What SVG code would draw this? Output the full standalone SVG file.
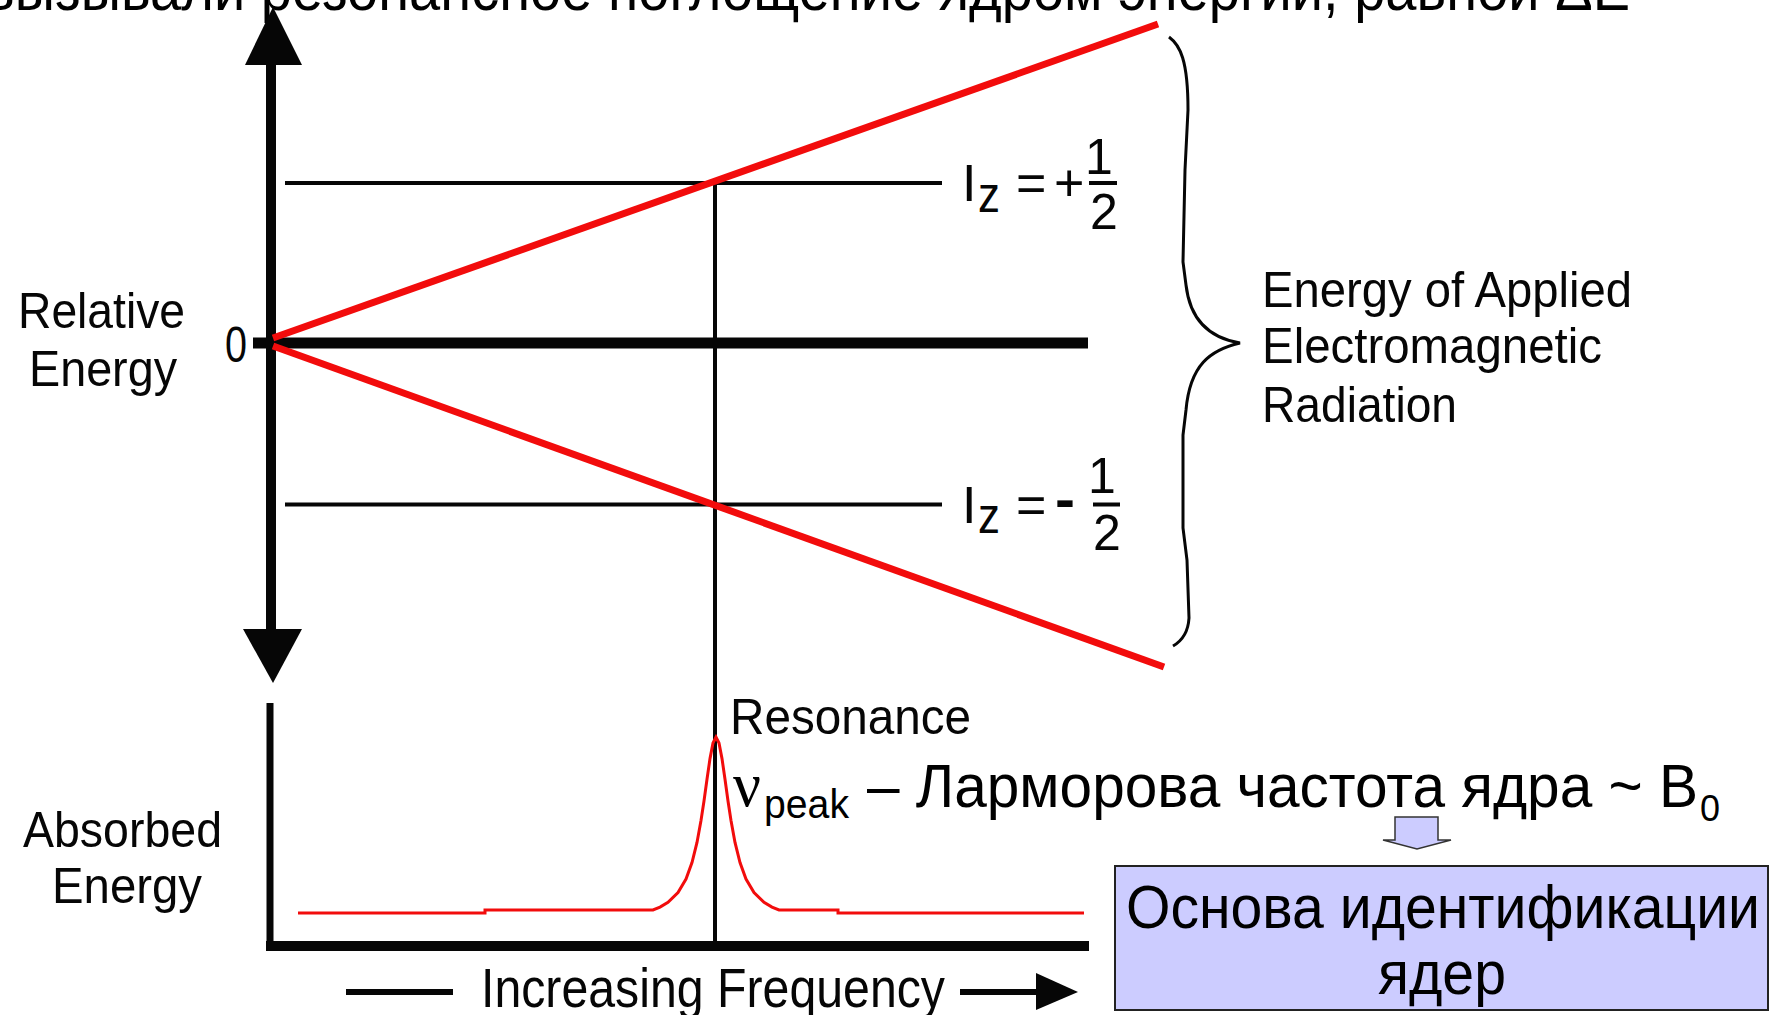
<svg xmlns="http://www.w3.org/2000/svg" width="1775" height="1015" viewBox="0 0 1775 1015">
<style>
.lbl{font-family:"Liberation Sans",Arial,sans-serif;font-size:50px;fill:#060606}
.big{font-family:"Liberation Sans","Noto Sans",sans-serif;font-size:62px;fill:#000}
.k{stroke:#060606;fill:none}
.r{stroke:#f20c0c;fill:none}
.head{fill:#060606}
</style>
<rect x="0" y="0" width="1775" height="1015" fill="#fff"/>
<g id="caption-top">
<text class="big" x="-15" y="10" textLength="1645" lengthAdjust="spacingAndGlyphs">вызывали резонансное поглощение ядром энергии, равной ΔE</text>
</g>
<g id="energy-axis">
<line class="k" x1="271" y1="60" x2="271" y2="632" stroke-width="10"/>
<polygon class="head" points="273,7 245,65 302,65"/>
<polygon class="head" points="243,629 302,629 273,683"/>
<text class="lbl" x="18" y="328" textLength="167" lengthAdjust="spacingAndGlyphs">Relative</text>
<text class="lbl" x="29" y="386" textLength="148" lengthAdjust="spacingAndGlyphs">Energy</text>
<text class="lbl" x="225" y="362" textLength="22" lengthAdjust="spacingAndGlyphs">0</text>
</g>
<g id="levels">
<line class="k" x1="253" y1="343" x2="1088" y2="343" stroke-width="11"/>
<line class="k" x1="285" y1="183" x2="942" y2="183" stroke-width="4"/>
<line class="k" x1="285" y1="504.5" x2="942" y2="504.5" stroke-width="4"/>
<line class="k" x1="715" y1="183" x2="715" y2="946" stroke-width="4"/>
</g>
<g id="label-plus">
<text class="lbl" x="962" y="201" style="font-size:52px">I</text>
<text class="lbl" x="978" y="212" style="font-size:52px" textLength="22" lengthAdjust="spacingAndGlyphs">z</text>
<text class="lbl" x="1016" y="201" style="font-size:52px">=</text>
<text class="lbl" x="1054" y="201" style="font-size:52px">+</text>
<text class="lbl" x="1099" y="174" text-anchor="middle">1</text>
<line class="k" x1="1089" y1="183" x2="1117" y2="183" stroke-width="4"/>
<text class="lbl" x="1104" y="229" text-anchor="middle">2</text>
</g>
<g id="label-minus">
<text class="lbl" x="962" y="523" style="font-size:52px">I</text>
<text class="lbl" x="978" y="533" style="font-size:52px" textLength="22" lengthAdjust="spacingAndGlyphs">z</text>
<text class="lbl" x="1016" y="523" style="font-size:52px">=</text>
<text class="lbl" x="1055" y="518" style="font-size:56px;font-weight:bold" textLength="20" lengthAdjust="spacingAndGlyphs">-</text>
<text class="lbl" x="1102" y="493" text-anchor="middle">1</text>
<line class="k" x1="1093" y1="504.5" x2="1120" y2="504.5" stroke-width="4"/>
<text class="lbl" x="1107" y="550" text-anchor="middle">2</text>
</g>
<g id="zeeman-lines">
<line class="r" x1="273" y1="338" x2="1158" y2="24" stroke-width="7"/>
<line class="r" x1="273" y1="346" x2="1164" y2="667" stroke-width="7"/>
</g>
<g id="brace">
<path class="k" stroke-width="3" d="M1169,37 C1180,45 1188,60 1188,110 L1185,170 L1183,262 L1186,285 C1190,320 1210,338 1240,343 C1210,350 1190,365 1186,410 L1183,435 L1183,528 L1187,560 L1189,618 C1188,635 1180,642 1173,646"/>
<text class="lbl" x="1262" y="307" textLength="370" lengthAdjust="spacingAndGlyphs">Energy of Applied</text>
<text class="lbl" x="1262" y="363" textLength="340" lengthAdjust="spacingAndGlyphs">Electromagnetic</text>
<text class="lbl" x="1262" y="422" textLength="195" lengthAdjust="spacingAndGlyphs">Radiation</text>
</g>
<g id="absorption-axis">
<line class="k" x1="270" y1="703" x2="270" y2="951" stroke-width="7"/>
<line class="k" x1="266" y1="946" x2="1089" y2="946" stroke-width="10"/>
<text class="lbl" x="23" y="847" textLength="199" lengthAdjust="spacingAndGlyphs">Absorbed</text>
<text class="lbl" x="52" y="903" textLength="150" lengthAdjust="spacingAndGlyphs">Energy</text>
</g>
<g id="spectrum">
<polyline class="r" stroke-width="3" points="298,913 485,913 485,910 653,910 660,907.1 668,902.3 678,892.5 686,879 692,862.5 697,842.4 701,820.6 704,801 707,779.3 710,758.6 713,743 716,737 719,743 722,758.6 725,779.3 728,801 731,820.6 735,842.4 740,862.5 746,879 754,892.5 764,902.3 772,907.1 779,910 838,910 838,913 1084,913"/>
<text class="lbl" x="730" y="734" textLength="241" lengthAdjust="spacingAndGlyphs">Resonance</text>
</g>
<g id="frequency-axis">
<line class="k" x1="346" y1="992" x2="453" y2="992" stroke-width="6"/>
<text class="lbl" x="481" y="1007" style="font-size:56px" textLength="464" lengthAdjust="spacingAndGlyphs">Increasing Frequency</text>
<line class="k" x1="960" y1="992" x2="1038" y2="992" stroke-width="6"/>
<polygon class="head" points="1036,973 1078,992 1036,1010"/>
</g>
<g id="larmor-text">
<text x="733" y="806" style="font-family:'Liberation Serif',serif;font-size:64px" textLength="28" lengthAdjust="spacingAndGlyphs">ν</text>
<text class="big" x="764" y="818" style="font-size:40px" textLength="85" lengthAdjust="spacingAndGlyphs">peak</text>
<text class="big" x="867" y="807" textLength="831" lengthAdjust="spacingAndGlyphs">– Ларморова частота ядра ~ B</text>
<text class="big" x="1700" y="821" style="font-size:36px">0</text>
</g>
<g id="connectors">
<polygon points="1395,817 1438,817 1438,840 1451,840 1417,849 1383,840 1395,840" fill="#ccccff" stroke="#333" stroke-width="1.5"/>
</g>
<g id="box-identification">
<rect x="1115" y="866" width="653" height="144" fill="#ccccff" stroke="#222" stroke-width="2"/>
<text class="big" x="1126" y="928" textLength="634" lengthAdjust="spacingAndGlyphs">Основа идентификации</text>
<text class="big" x="1378" y="994" textLength="128" lengthAdjust="spacingAndGlyphs">ядер</text>
</g>
</svg>
